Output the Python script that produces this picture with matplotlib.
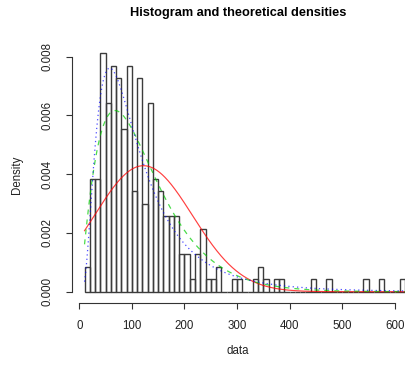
import math
import numpy as np
import matplotlib
matplotlib.use("Agg")
import matplotlib.pyplot as plt

plt.rcParams['font.family'] = ['Liberation Sans', 'DejaVu Sans']

# Histogram counts in bins of width 10, starting at 10
bin_start = 10
bin_width = 10
counts = [2, 9, 9, 19, 15, 18, 17, 13, 18, 8,
          17, 7, 15, 9, 8, 6, 6, 6, 3, 3,
          1, 3, 5, 1, 1, 2, 0, 0, 1, 1,
          0, 0, 1, 2, 1, 0, 1, 1, 0, 0,
          0, 0, 0, 1, 0, 0, 1, 0, 0, 0,
          0, 0, 0, 1, 0, 0, 1, 0, 0, 0,
          1]

# Fitted distribution parameters
norm_mean, norm_sd = 122.0, 93.0
gamma_shape, gamma_scale = 2.26, 54.0
lnorm_meanlog, lnorm_sdlog = 4.557, 0.705

x_ticks = [0, 100, 200, 300, 400, 500, 600]
y_ticks = [0.000, 0.002, 0.004, 0.006, 0.008]
y_tick_labels = ["0.000", "0.002", "0.004", "0.006", "0.008"]

counts = np.array(counts, dtype=float)
n = counts.sum()
edges = bin_start + bin_width * np.arange(len(counts) + 1)
dens = counts / (n * bin_width)

W, H = 406, 366
fig = plt.figure(figsize=(W / 100, H / 100), dpi=100)
ax_l, ax_r, ax_t, ax_b = 71.7, 418.0, 40.0, 303.0
ax = fig.add_axes([ax_l / W, 1 - ax_b / H, (ax_r - ax_l) / W, (ax_b - ax_t) / H])
ax.set_xlim(-14.4, 644.0)
ax.set_ylim(-0.000385, 0.008569)

ax.bar(edges[:-1], dens, width=bin_width, align='edge', fill=False,
       edgecolor='#3c3c3c', linewidth=1.0)

xs = np.linspace(edges[0], edges[-1], 600)
pdf_norm = np.exp(-0.5 * ((xs - norm_mean) / norm_sd) ** 2) / (norm_sd * math.sqrt(2 * math.pi))
pdf_gamma = (xs ** (gamma_shape - 1) * np.exp(-xs / gamma_scale)
             / (math.gamma(gamma_shape) * gamma_scale ** gamma_shape))
pdf_lnorm = (np.exp(-0.5 * ((np.log(xs) - lnorm_meanlog) / lnorm_sdlog) ** 2)
             / (xs * lnorm_sdlog * math.sqrt(2 * math.pi)))

ax.plot(xs, pdf_norm, color='#FF0000', lw=0.85, alpha=0.75, linestyle='-')
ax.plot(xs, pdf_gamma, color='#00CD00', lw=0.9, alpha=0.7, linestyle=(0, (4, 4)))
ax.plot(xs, pdf_lnorm, color='#0000FF', lw=0.9, alpha=0.7, linestyle=(0, (1, 2.5)))

for s in ['top', 'right']:
    ax.spines[s].set_visible(False)
ax.spines['left'].set_bounds(0, 0.008)
ax.spines['bottom'].set_bounds(0, 600)
for s in ['left', 'bottom']:
    ax.spines[s].set_linewidth(0.8)
    ax.spines[s].set_color('#333333')

ax.set_xticks(x_ticks)
ax.set_xticklabels([str(t) for t in x_ticks])
ax.set_yticks(y_ticks)
ax.set_yticklabels(y_tick_labels, rotation=90, va='center')
ax.tick_params(axis='both', direction='out', length=4.3, width=0.8,
               color='#333333', labelsize=8.3, labelcolor='#222222')
ax.tick_params(axis='x', pad=8)
ax.tick_params(axis='y', pad=9)

fig.text(238 / W, 1 - 13 / H, "Histogram and theoretical densities",
         ha='center', va='center', fontsize=9.2, fontweight='bold')
fig.text(238 / W, 1 - 351 / H, "data", ha='center', va='center', fontsize=8.3,
         color='#222222')
fig.text(17 / W, 1 - 175 / H, "Density", ha='center', va='center', fontsize=8.3,
         rotation=90, color='#222222')

fig.savefig("out.png", dpi=100)
